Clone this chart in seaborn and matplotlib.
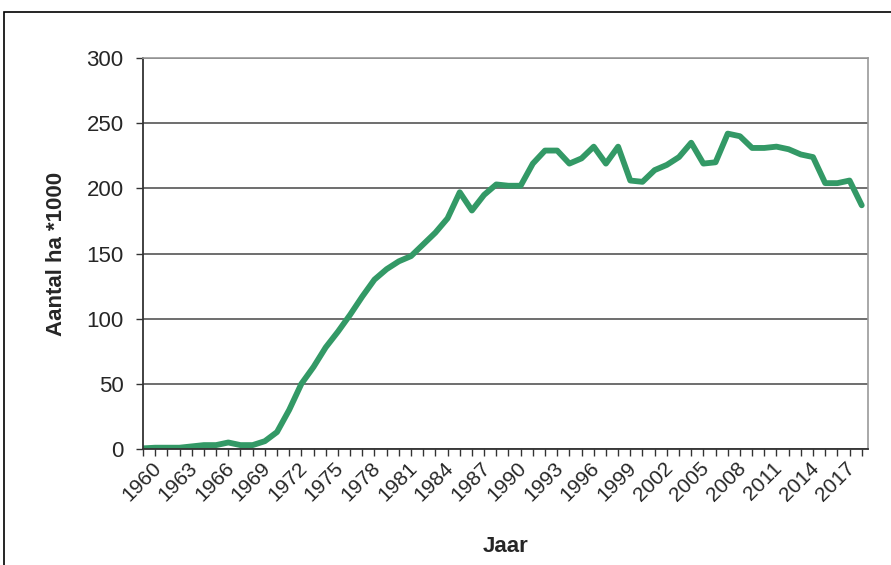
import numpy as np
import pandas as pd
import matplotlib
matplotlib.use("Agg")
import matplotlib.pyplot as plt
import seaborn as sns
from matplotlib.patches import Rectangle
from matplotlib.transforms import ScaledTranslation

years = list(range(1960, 2020))
area = [0.5, 1, 1, 1, 2, 3, 3, 5, 3, 3,
        6, 13, 30, 50, 63, 78, 90, 103, 117, 130,
        138, 144, 148, 157, 166, 177, 197, 183, 195, 203,
        202, 202, 219, 229, 229, 219, 223, 232, 219, 232,
        206, 205, 214, 218, 224, 235, 219, 220, 242, 240,
        231, 231, 232, 230, 226, 224, 204, 204, 206, 187]
label_years = list(range(1960, 2020, 3))

df = pd.DataFrame({"Jaar": years, "Areaal": area})

sns.set_style("white")
plt.rcParams['font.family'] = ['Liberation Sans', 'DejaVu Sans']

fig = plt.figure(figsize=(8.91, 5.65), dpi=100)
ax = fig.add_axes([0.1605, 0.2053, 0.974 - 0.1605, 0.8973 - 0.2053])

sns.lineplot(data=df, x="Jaar", y="Areaal", ax=ax, color="#339966", linewidth=4.2)

ax.set_xlim(1960, 2019.5)
ax.set_ylim(0, 300)
ax.set_yticks(range(0, 301, 50))
ax.yaxis.grid(True, color="#555555", linewidth=1.2)
ax.set_axisbelow(True)

ax.set_xticks(years)
ax.set_xticklabels([str(y) if y in label_years else "" for y in years],
                   rotation=45, ha="right", rotation_mode="anchor", fontsize=15)
ax.tick_params(axis="x", length=5, width=1, color="#333333", direction="out", bottom=True, pad=2)
ax.tick_params(axis="y", length=5, width=1, color="#333333", direction="out", left=True,
               labelsize=16, pad=9)

# nudge the rotated year labels a bit to the right, like the original
shift = ScaledTranslation(6 / 72, 0, fig.dpi_scale_trans)
for lbl in ax.get_xticklabels():
    lbl.set_transform(lbl.get_transform() + shift)

for s in ["left", "bottom"]:
    ax.spines[s].set_color("#333333")
    ax.spines[s].set_linewidth(1.3)
for s in ["top", "right"]:
    ax.spines[s].set_color("#999999")
    ax.spines[s].set_linewidth(1.2)

ax.set_xlabel("Jaar", fontsize=16, fontweight="bold", labelpad=22)
ax.set_ylabel("Aantal ha *1000", fontsize=16, fontweight="bold", labelpad=14)

# frame around the whole chart
fig.patches.append(Rectangle((4 / 891, -0.05), 1.1, 1 - 12 / 565 + 0.05,
                             transform=fig.transFigure, fill=False,
                             edgecolor="black", linewidth=1.2, clip_on=False))

fig.savefig("out.png", dpi=100)
